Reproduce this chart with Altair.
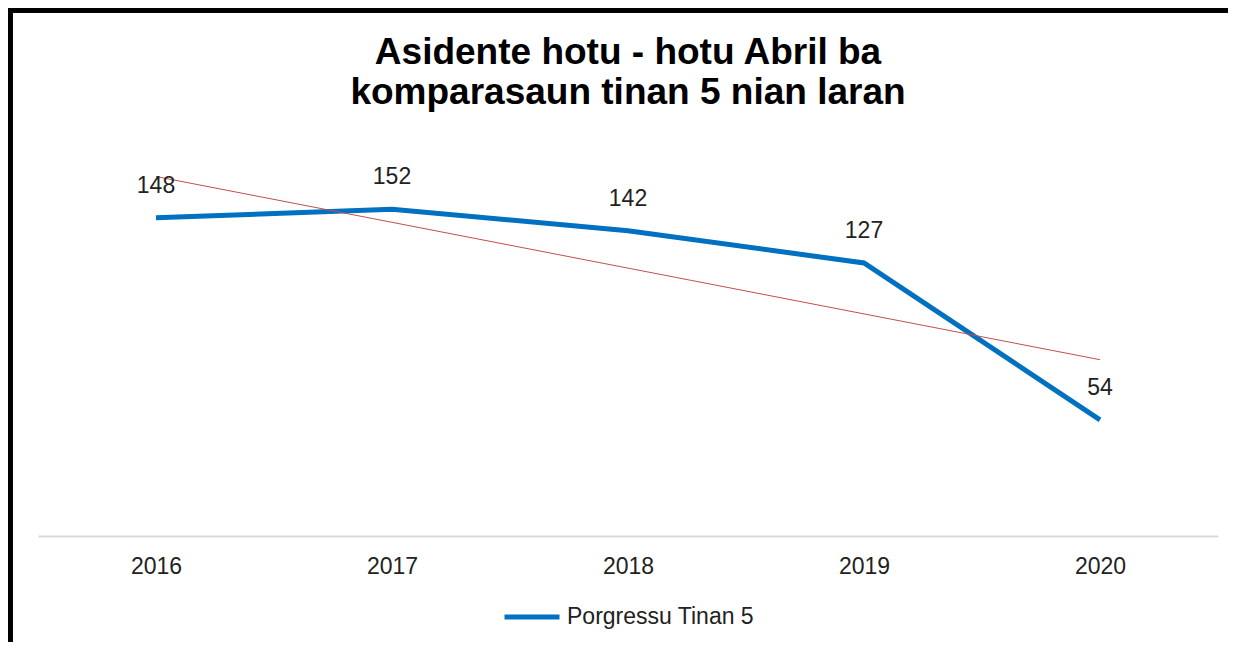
import altair as alt
import pandas as pd
import numpy as np

years = [2016, 2017, 2018, 2019, 2020]
values = [148, 152, 142, 127, 54]
series = ["Porgressu Tinan 5"] * 5
title_lines = ["Asidente hotu - hotu  Abril ba", "komparasaun tinan 5 nian laran"]

df = pd.DataFrame({"year": years, "value": values, "series": series})

# linear trendline fitted to the series (as Excel draws it)
slope, intercept = np.polyfit(years, values, 1)
trend_df = pd.DataFrame({"x1": [years[0]], "x2": [years[-1]],
                         "y1": [float(slope * years[0] + intercept)],
                         "y2": [float(slope * years[-1] + intercept)]})

W, H = 1180, 387
FONT = "Liberation Sans"

xscale = alt.Scale(domain=[2015.5, 2020.5], nice=False, zero=False)
yscale = alt.Scale(domain=[0, 180], nice=False)

line = alt.Chart(df).mark_line(strokeWidth=5).encode(
    x=alt.X("year:Q", scale=xscale,
            axis=alt.Axis(values=years, format="d", title=None, ticks=False, grid=False,
                          domainColor="#D9D9D9", domainWidth=2,
                          labelFontSize=23, labelFont=FONT, labelColor="#222222",
                          labelPadding=19)),
    y=alt.Y("value:Q", scale=yscale, axis=None),
    color=alt.Color("series:N", scale=alt.Scale(range=["#0070C0"]),
                    legend=alt.Legend(title=None, orient="none", legendX=464, legendY=438,
                                      symbolType="stroke", symbolSize=3025,
                                      symbolStrokeWidth=5, labelFontSize=23, labelFont=FONT,
                                      labelColor="#222222", labelOffset=5, labelLimit=400)),
)

trend = alt.Chart(trend_df).mark_rule(color="#C0504D", strokeWidth=1).encode(
    x=alt.X("x1:Q"), x2="x2:Q", y=alt.Y("y1:Q"), y2="y2:Q"
)

labels = alt.Chart(df).mark_text(dy=-32, fontSize=23, font=FONT, color="#222222").encode(
    x=alt.X("year:Q"), y=alt.Y("value:Q"), text=alt.Text("value:Q")
)

frame_top = alt.Chart(df).mark_rule(stroke="black", strokeWidth=5).encode(
    x=alt.value(-30), x2=alt.value(W + 60), y=alt.value(-139)
)
frame_left = alt.Chart(df).mark_rule(stroke="black", strokeWidth=5).encode(
    x=alt.value(-28), y=alt.value(-141), y2=alt.value(H + 200)
)

chart = alt.layer(line, trend, labels, frame_top, frame_left).properties(
    width=W, height=H,
    title=alt.TitleParams(text=title_lines, fontSize=37, fontWeight="bold", font=FONT,
                          lineHeight=40, offset=-106, frame="group", anchor="middle"),
    autosize=alt.AutoSizeParams(type="none"),
    padding={"left": 30, "top": 141, "right": 10, "bottom": 106},
).configure_view(stroke=None)

chart.save("out.html", embed_options={"renderer": "svg", "actions": False})
